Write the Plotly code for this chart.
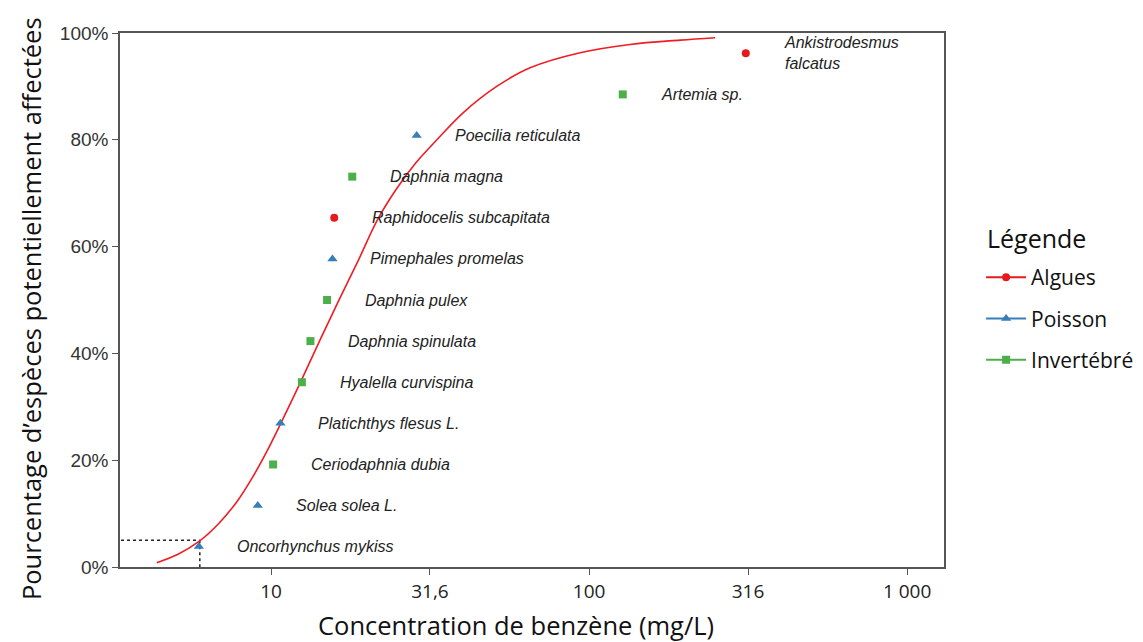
import math
import plotly.graph_objects as go

# ---- Data ----
species = ["Oncorhynchus mykiss", "Solea solea L.", "Ceriodaphnia dubia", "Platichthys flesus L.",
           "Hyalella curvispina", "Daphnia spinulata", "Daphnia pulex", "Pimephales promelas",
           "Raphidocelis subcapitata", "Daphnia magna", "Poecilia reticulata", "Artemia sp.",
           "Ankistrodesmus<br>falcatus"]
groups = ["Poisson", "Poisson", "Invertébré", "Poisson", "Invertébré", "Invertébré", "Invertébré",
          "Poisson", "Algues", "Invertébré", "Poisson", "Invertébré", "Algues"]
conc = [5.93, 9.08, 10.15, 10.7, 12.5, 13.3, 15.0, 15.6, 15.8, 18.0, 28.7, 127.6, 311]
pct = [3.85, 11.5, 19.2, 26.9, 34.6, 42.3, 50.0, 57.7, 65.4, 73.1, 80.8, 88.5, 96.2]

curve_x = [4.371, 5.099, 5.907, 6.813, 7.818, 8.715, 9.645, 10.75, 12.43, 14.26, 16.36, 18.78,
           21.54, 24.72, 28.58, 33.51, 40.16, 51.37, 65.24, 93.69, 134.6, 193.3, 249.0]
curve_y = [0.81, 2.40, 4.69, 8.01, 12.28, 16.65, 21.37, 27.0, 34.87, 42.54, 50.02, 57.33,
           64.87, 70.68, 75.74, 80.24, 85.06, 90.04, 93.49, 96.31, 97.86, 98.67, 99.12]

hc5_x = 5.97
hc5_y = 5.0

x_tickvals = [10, 31.6, 100, 316, 1000]
x_ticktext = ["10", "31,6", "100", "316", "1 000"]
y_tickvals = [0, 20, 40, 60, 80, 100]
y_ticktext = ["0%", "20%", "40%", "60%", "80%", "100%"]

group_order = ["Algues", "Poisson", "Invertébré"]
group_color = {"Algues": "#e41a1c", "Poisson": "#377eb8", "Invertébré": "#4daf4a"}
group_symbol = {"Algues": "circle", "Poisson": "triangle-up", "Invertébré": "square"}
group_size = {"Algues": 8, "Poisson": 9, "Invertébré": 8}

fig = go.Figure()

# HC5 dotted guides
fig.add_trace(go.Scatter(x=[1, hc5_x], y=[hc5_y, hc5_y], mode="lines",
                         line=dict(color="#222222", width=1.5, dash="dot"),
                         showlegend=False, hoverinfo="skip"))
fig.add_trace(go.Scatter(x=[hc5_x, hc5_x], y=[hc5_y, 0], mode="lines",
                         line=dict(color="#222222", width=1.5, dash="dot"),
                         showlegend=False, hoverinfo="skip"))

# fitted curve
fig.add_trace(go.Scatter(x=curve_x, y=curve_y, mode="lines",
                         line=dict(color="#f01c24", width=1.6, shape="spline", smoothing=1.0),
                         showlegend=False, hoverinfo="skip"))

# species points per group
for g in group_order:
    xs = [c for c, gg in zip(conc, groups) if gg == g]
    ys = [p for p, gg in zip(pct, groups) if gg == g]
    fig.add_trace(go.Scatter(x=xs, y=ys, mode="markers",
                             marker=dict(color=group_color[g], symbol=group_symbol[g],
                                         size=group_size[g], line=dict(width=0)),
                             showlegend=False, name=g))

# legend entries (line + marker)
for g in group_order:
    fig.add_trace(go.Scatter(x=[None], y=[None], mode="lines+markers", name=g,
                             legendgroup=g,
                             line=dict(color=group_color[g], width=2),
                             marker=dict(color=group_color[g], symbol=group_symbol[g],
                                         size=group_size[g])))

# species labels (log axis -> annotation x in log10 units)
for s, c, p in zip(species, conc, pct):
    fig.add_annotation(x=math.log10(c), y=p, xref="x", yref="y", text="<i>" + s + "</i>",
                       showarrow=False, xanchor="left", yanchor="middle", xshift=36, align="left",
                       font=dict(family="Liberation Sans, Arial, sans-serif", size=16, color="#222222"))

# legend title and axis titles
fig.add_annotation(x=1.0498, y=0.616, xref="paper", yref="paper", text="Légende",
                   showarrow=False, xanchor="left", yanchor="middle",
                   font=dict(size=25, family="Open Sans, sans-serif", color="#111111"))
fig.add_annotation(x=0.4806, y=-0.108, xref="paper", yref="paper",
                   text="Concentration de benzène (mg/L)",
                   showarrow=False, xanchor="center", yanchor="middle",
                   font=dict(size=25.5, family="Open Sans, sans-serif", color="#111111"))
fig.add_annotation(x=-0.108, y=0.483, xref="paper", yref="paper",
                   text="Pourcentage d’espèces potentiellement affectées", textangle=-90,
                   showarrow=False, xanchor="center", yanchor="middle",
                   font=dict(size=25.5, family="Open Sans, sans-serif", color="#111111"))

fig.update_layout(
    width=1135, height=634,
    margin=dict(l=112, r=199, t=25, b=75, autoexpand=False),
    paper_bgcolor="white", plot_bgcolor="white",
    font=dict(family="Open Sans, sans-serif", color="#222222"),
    legend=dict(
        font=dict(size=21, family="Open Sans, sans-serif", color="#111111"),
        x=1.045, y=0.5805, xanchor="left", yanchor="top",
        traceorder="grouped", tracegroupgap=11,
        itemwidth=40, bgcolor="rgba(0,0,0,0)",
    ),
    xaxis=dict(
        type="log", range=[0.525, 3.116],
        tickvals=x_tickvals, ticktext=x_ticktext,
        ticks="outside", ticklen=6, tickcolor="#555555", tickwidth=1.2,
        showline=True, linecolor="#555555", linewidth=1.5, mirror=True,
        showgrid=False, zeroline=False, automargin=False,
        tickfont=dict(size=19, family="Open Sans, sans-serif", color="#222222"),
    ),
    yaxis=dict(
        range=[0, 100], tickvals=y_tickvals, ticktext=y_ticktext,
        ticks="outside", ticklen=6, tickcolor="#555555", tickwidth=1.2,
        showline=True, linecolor="#555555", linewidth=1.5, mirror=True,
        showgrid=False, zeroline=False, automargin=False,
        tickfont=dict(size=19, family="Liberation Sans, Arial, sans-serif", color="#333333"),
    ),
)

fig.write_html("out.html")
